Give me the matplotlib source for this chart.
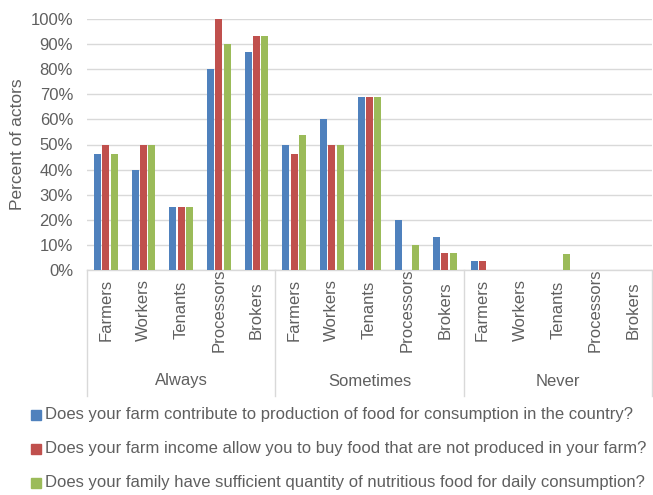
import matplotlib
matplotlib.use("Agg")
import matplotlib.pyplot as plt
import matplotlib.transforms as mtransforms
import numpy as np

plt.rcParams['font.family'] = ['Liberation Sans', 'DejaVu Sans']

groups = ["Always", "Sometimes", "Never"]
actors = ["Farmers", "Workers", "Tenants", "Processors", "Brokers"]

series_names = [
    "Does your farm contribute to production of food for consumption in the country?",
    "Does your farm income allow you to buy food that are not produced in your farm?",
    "Does your family have sufficient quantity of nutritious food for daily consumption?",
]

# percent of actors, ordered Always(5) + Sometimes(5) + Never(5)
contribute = [46.4, 40.0, 25.0, 80.0, 86.7,
              50.0, 60.0, 68.75, 20.0, 13.3,
              3.6, 0.0, 0.0, 0.0, 0.0]
income = [50.0, 50.0, 25.0, 100.0, 93.3,
          46.4, 50.0, 68.75, 0.0, 6.7,
          3.6, 0.0, 0.0, 0.0, 0.0]
sufficient = [46.4, 50.0, 25.0, 90.0, 93.3,
              53.6, 50.0, 68.75, 10.0, 6.7,
              0.0, 0.0, 6.25, 0.0, 0.0]

colors = ["#4F81BD", "#C0504D", "#9BBB59"]
text_color = "#5F5F5F"
grid_color = "#D9D9D9"

fig = plt.figure(figsize=(6.53, 4.95), dpi=100)
ax = fig.add_axes([87 / 653, 1 - 270 / 495, 565 / 653, 251 / 495])

n = len(groups) * len(actors)
x = np.arange(n)
width = 0.18
offsets = [-0.22, 0.0, 0.22]
for vals, off, col in zip([contribute, income, sufficient], offsets, colors):
    ax.bar(x + off, vals, width=width, color=col, zorder=3)

ax.set_xlim(-0.5, n - 0.5)
ax.set_ylim(0, 100)
ax.set_yticks(np.arange(0, 101, 10))
ax.set_yticklabels([f"{v}%" for v in range(0, 101, 10)], color=text_color, fontsize=12)
ax.tick_params(axis="y", length=0, pad=10)
ax.set_xticks([])
ax.yaxis.grid(True, color=grid_color, linewidth=1)
ax.set_axisbelow(True)
for s in ["top", "right", "left"]:
    ax.spines[s].set_visible(False)
ax.spines["bottom"].set_color(grid_color)
ax.spines["bottom"].set_linewidth(1)

ax.set_ylabel("Percent of actors", color=text_color, fontsize=12.5, labelpad=4)

trans = mtransforms.blended_transform_factory(ax.transData, ax.transAxes)
ax_h = 251.0
for i in range(n):
    ax.text(i, -40 / ax_h, actors[i % len(actors)], rotation=90, ha="center", va="center",
            color=text_color, fontsize=12, transform=trans)

for g, name in enumerate(groups):
    center = g * len(actors) + (len(actors) - 1) / 2
    ax.text(center, -111 / ax_h, name, ha="center", va="center",
            color=text_color, fontsize=12, transform=trans)

for b in range(len(groups) + 1):
    xb = b * len(actors) - 0.5
    ax.plot([xb, xb], [0, -126 / ax_h], color=grid_color, linewidth=1,
            transform=trans, clip_on=False)

# legend entries stacked on the left
leg_y = [415, 449, 483]
for name, col, yy in zip(series_names, colors, leg_y):
    fy = 1 - yy / 495
    fig.patches.append(plt.Rectangle((31 / 653, fy - 5 / 495), 10 / 653, 10 / 495,
                                     transform=fig.transFigure, color=col))
    fig.text(45 / 653, fy, name, ha="left", va="center", color=text_color, fontsize=12)

fig.savefig("out.png", dpi=100)
